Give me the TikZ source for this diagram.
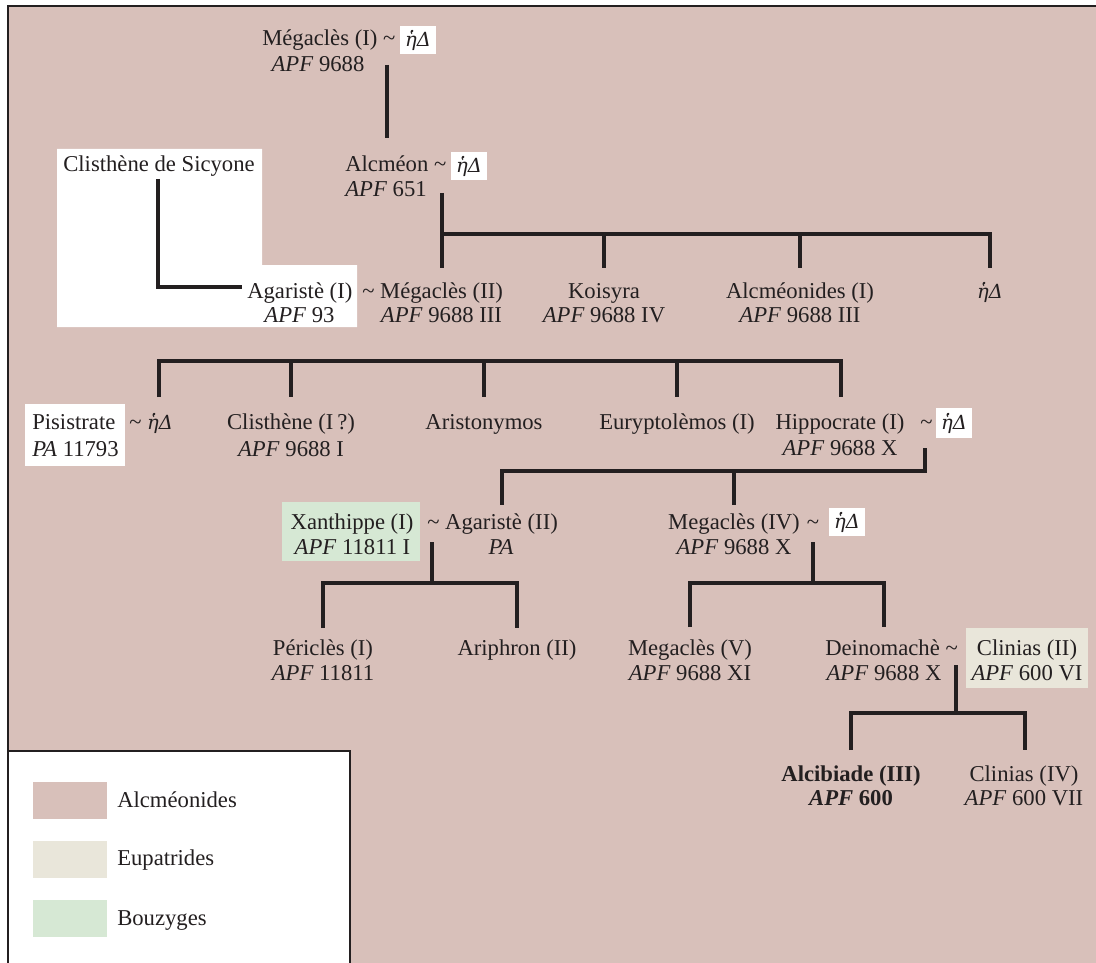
\documentclass[tikz,border=0pt]{standalone}
\usepackage{fontspec}
\setmainfont{Liberation Serif}
\newfontfamily\grk{DejaVu Serif}[Scale=0.86]
\definecolor{alcm}{RGB}{216,192,186}
\definecolor{eupa}{RGB}{233,230,218}
\definecolor{bouz}{RGB}{214,232,212}
\definecolor{ink}{RGB}{35,31,32}
\newcommand{\hd}{{\grk\itshape ἡΔ}}
\newcommand{\tl}{\textasciitilde}
\tikzset{
  lbl/.style={inner sep=0pt, anchor=base, text=ink, font=\fontsize{17}{20}\selectfont},
  lblw/.style={lbl, anchor=base west},
  wbox/.style={fill=white, inner sep=0pt, minimum width=27pt, minimum height=21pt, text=ink, font=\fontsize{17}{20}\selectfont},
  tree/.style={draw=ink, line width=2.5pt},
}
\begin{document}
\begin{tikzpicture}[x=0.75pt,y=-0.75pt]
\useasboundingbox (0,0) rectangle (1096,963);
\clip (0,0) rectangle (1096,963);
% background frame
\fill[alcm] (8,6) rectangle (1100,970);
\draw[draw=ink, line width=2pt] (1100,6) -- (8,6) -- (8,970);
% white / coloured panels
\fill[white] (57,149) -- (262,149) -- (262,265) -- (357,265) -- (357,327) -- (57,327) -- cycle;
\fill[white] (25,404) rectangle (125,466);
\fill[bouz] (282,502) rectangle (420,561);
\fill[eupa] (966,628) rectangle (1088,688);
% legend
\filldraw[fill=white, draw=ink, line width=2pt] (8,751) rectangle (350,975);
\fill[alcm] (33,782) rectangle (107,819);
\fill[eupa] (33,841) rectangle (107,878);
\fill[bouz] (33,900) rectangle (107,937);
\node[lblw] (legA) at (117,807) {Alcméonides};
\node[lblw] (legE) at (117,865) {Eupatrides};
\node[lblw] (legB) at (117,925) {Bouzyges};

% row 1
\node[lblw] (m1) at (262,46) {Mégaclès (I) \tl};
\node[wbox] (w1) at (418,40) {\hd};
\node[lbl] (m1a) at (318,72) {\textit{APF} 9688};
% row 2
\node[lblw] (alc) at (345,172) {Alcméon \tl};
\node[wbox] (w2) at (469,166) {\hd};
\node[lbl] (alca) at (386,197) {\textit{APF} 651};
\node[lbl] (cls) at (159,172) {Clisthène de Sicyone};
% row 3
\node[lblw] (ag1) at (247,298) {Agaristè (I)};
\node[lbl] (ag1a) at (299.5,322) {\textit{APF} 93};
\node[lblw] (m2) at (362,298) {\tl{} Mégaclès (II)};
\node[lbl] (m2a) at (441.5,322) {\textit{APF} 9688 III};
\node[lbl] (koi) at (604,298) {Koisyra};
\node[lbl] (koia) at (604,322) {\textit{APF} 9688 IV};
\node[lbl] (alm) at (800,298) {Alcméonides (I)};
\node[lbl] (alma) at (800,322) {\textit{APF} 9688 III};
\node[lbl] (w3) at (990,298) {\hd};
% row 4
\node[lblw] (pis) at (32,429) {Pisistrate};
\node[lblw] (pisa) at (32,456) {\textit{PA} 11793};
\node[lblw] (w4) at (129,429) {\tl{} \hd};
\node[lbl] (cl1) at (291,429) {Clisthène (I\,?)};
\node[lbl] (cl1a) at (291,456) {\textit{APF} 9688 I};
\node[lbl] (ari) at (484,429) {Aristonymos};
\node[lbl] (eur) at (677,429) {Euryptolèmos (I)};
\node[lbl] (hip) at (840,429) {Hippocrate (I)};
\node[lbl] (hipa) at (840,455) {\textit{APF} 9688 X};
\node[lbl] (hipt) at (926.5,429) {\tl};
\node[wbox, minimum height=23pt] (w5) at (954,423) {\hd};
% row 5
\node[lbl] (xan) at (352,529) {Xanthippe (I)};
\node[lbl] (xana) at (352.5,554) {\textit{APF} 11811 I};
\node[lblw] (ag2) at (427,529) {\tl{} Agaristè (II)};
\node[lbl] (ag2a) at (501,554) {\textit{PA}};
\node[lbl] (m4) at (734,529) {Megaclès (IV)};
\node[lbl] (m4a) at (734,554) {\textit{APF} 9688 X};
\node[lbl] (m4t) at (813,529) {\tl};
\node[wbox] (w6) at (847,522) {\hd};
% row 6
\node[lbl] (per) at (323,655) {Périclès (I)};
\node[lbl] (pera) at (323,680) {\textit{APF} 11811};
\node[lbl] (aph) at (517,655) {Ariphron (II)};
\node[lbl] (m5) at (690,655) {Megaclès (V)};
\node[lbl] (m5a) at (690,680) {\textit{APF} 9688 XI};
\node[lblw] (dei) at (825,655) {Deinomachè \tl};
\node[lbl] (deia) at (884,680) {\textit{APF} 9688 X};
\node[lbl] (cn2) at (1027,655) {Clinias (II)};
\node[lbl] (cn2a) at (1027,680) {\textit{APF} 600 VI};
% row 7
\node[lbl] (alb) at (851,781) {\textbf{Alcibiade (III)}};
\node[lbl] (alba) at (851,805) {\textbf{\textit{APF} 600}};
\node[lbl] (cn4) at (1024,781) {Clinias (IV)};
\node[lbl] (cn4a) at (1024,805) {\textit{APF} 600 VII};

% tree lines
\coordinate (a1) at (387,65); \coordinate (a2) at (387,138);
\draw[tree] (a1) -- (a2);
\coordinate (b0) at (442,193); \coordinate (b1) at (442,268);
\draw[tree] (b0) -- (b1);
\coordinate (bh) at (442,234); \coordinate (bk) at (604,234); \coordinate (bm) at (800,234); \coordinate (br) at (990,234);
\draw[tree] (bh) -- (br) -- (990,268);
\draw[tree] (bk) -- (604,268);
\draw[tree] (bm) -- (800,268);
\coordinate (c0) at (158,179); \coordinate (c1) at (158,287); \coordinate (c2) at (242,287);
\draw[tree] (c0) -- (c1) -- (c2);
\coordinate (d1) at (159,361); \coordinate (d5) at (841,361);
\draw[tree] (159,397) -- (d1) -- (d5) -- (841,397);
\draw[tree] (291,361) -- (291,397);
\draw[tree] (484,361) -- (484,397);
\draw[tree] (677,361) -- (677,397);
\coordinate (e0) at (925,448); \coordinate (e1) at (925,471); \coordinate (e2) at (502,471);
\draw[tree] (e0) -- (e1) -- (e2) -- (502,505);
\draw[tree] (734,471) -- (734,505);
\coordinate (f0) at (432,542); \coordinate (f1) at (432,583);
\draw[tree] (f0) -- (f1);
\draw[tree] (323,628) -- (323,583) -- (517,583) -- (517,628);
\coordinate (g0) at (813,542); \coordinate (g1) at (813,583);
\draw[tree] (g0) -- (g1);
\draw[tree] (690,627) -- (690,583) -- (884,583) -- (884,627);
\coordinate (h0) at (956,665); \coordinate (h1) at (956,713);
\draw[tree] (h0) -- (h1);
\draw[tree] (851,750) -- (851,713) -- (1025,713) -- (1025,750);
\end{tikzpicture}
\end{document}
